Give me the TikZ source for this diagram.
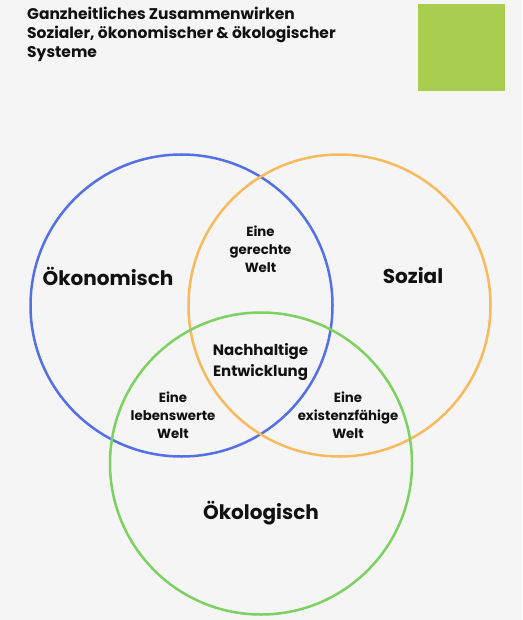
\documentclass[tikz,border=0pt]{standalone}
\usepackage{fontspec}
\setmainfont{Poppins}
\definecolor{hintergrund}{HTML}{F5F5F5}
\definecolor{blau}{HTML}{5470E6}
\definecolor{orange}{HTML}{F7BA5C}
\definecolor{gruen}{HTML}{7DD160}
\definecolor{quadrat}{HTML}{A9CD4F}
\definecolor{schrift}{HTML}{111111}
\begin{document}
\begin{tikzpicture}[x=1pt,y=-1pt]
% Styles (MODIFIABLES)
\tikzstyle{kreis}=[circle,draw,line width=2.5pt,minimum size=2*\Radius pt,inner sep=0pt]
\tikzstyle{titel}=[anchor=west,align=left,inner sep=0pt,text=schrift,font=\bfseries\fontsize{15.5}{19}\selectfont]
\tikzstyle{bereich}=[inner sep=0pt,text=schrift,font=\bfseries\fontsize{20}{22}\selectfont]
\tikzstyle{schnitt}=[align=center,inner sep=0pt,text=schrift,font=\bfseries\fontsize{13.3}{18}\selectfont]
\tikzstyle{mitte}=[align=center,inner sep=0pt,text=schrift,font=\bfseries\fontsize{15}{21}\selectfont]
% Dimensions (MODIFIABLES)
\def\Radius{151}
\def\Breite{522}
\def\Hoehe{620}
% Hintergrund
\fill[hintergrund] (0,0) rectangle (\Breite,\Hoehe);
\useasboundingbox (0,0) rectangle (\Breite,\Hoehe);
% Titel und Quadrat
\node[titel] (T) at (27,34) {Ganzheitliches Zusammenwirken\\Sozialer, ökonomischer \& ökologischer\\Systeme};
\node[fill=quadrat,minimum width=87pt,minimum height=87pt,inner sep=0pt] (Q) at (461.5,47.5) {};
% Kreise
\node[kreis,blau] (Oek) at (181.5,305.5) {};
\node[kreis,orange] (Soz) at (339.5,305.5) {};
\node[kreis,gruen] (Eko) at (261,463.5) {};
% Beschriftungen
\node[bereich] (OekT) at (108,276) {Ökonomisch};
\node[bereich] (SozT) at (413,276) {Sozial};
\node[bereich] (EkoT) at (261,513) {Ökologisch};
\node[schnitt] (OS) at (260.5,249) {Eine\\gerechte\\Welt};
\node[schnitt] (OE) at (173,415.5) {Eine\\lebenswerte\\Welt};
\node[schnitt] (SE) at (348,415.5) {Eine\\existenzfähige\\Welt};
\node[mitte] (NE) at (260.5,362.5) {Nachhaltige\\Entwicklung};
\end{tikzpicture}
\end{document}
